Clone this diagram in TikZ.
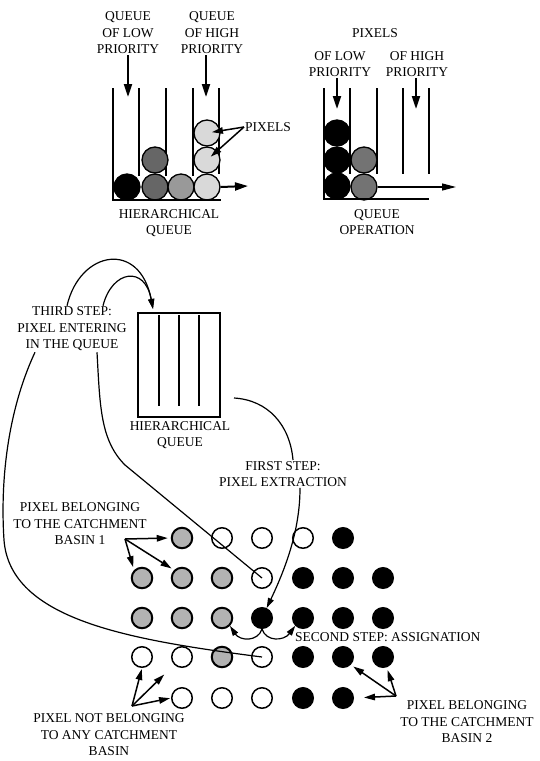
\documentclass[tikz,border=0pt]{standalone}
\usepackage{fontspec}
\setmainfont{Liberation Serif}
\usetikzlibrary{arrows.meta}

\begin{document}
\begin{tikzpicture}[x=1pt,y=-1pt]
  \tikzstyle{lbl} = [align=center, inner sep=1pt, font=\fontsize{13.5}{16.5}\selectfont]
  \tikzstyle{px} = [circle, draw, line width=1.5pt, minimum size=20.5pt, inner sep=0pt]
  \tikzstyle{pw} = [px, fill=white]
  \tikzstyle{pg} = [px, fill=black!30, line width=2pt]
  \tikzstyle{pb} = [px, fill=black]
  \tikzstyle{q} = [circle, draw, line width=1.3pt, minimum size=26pt, inner sep=0pt]
  \tikzstyle{tube} = [line width=2.4pt]
  \tikzstyle{e} = [line width=1.2pt]
  \tikzstyle{ea} = [e, -{Triangle[length=10pt,width=6pt]}]
  \tikzstyle{ptr} = [line width=1.5pt, shorten >=3pt, -{Triangle[length=11pt,width=6.5pt]}]
  \tikzstyle{dn} = [line width=2pt, -{Triangle[length=13pt,width=8pt]}]
  \useasboundingbox (0,0) rectangle (539,761);

  % hierarchical queue
  \node[lbl](lowq) at (128,33){QUEUE\\OF LOW\\PRIORITY};
  \node[lbl](highq) at (212,33){QUEUE\\OF HIGH\\PRIORITY};
  \coordinate (lowin) at (128,97);
  \coordinate (highin) at (206,97);
  \draw[dn](lowq)--(lowin);
  \draw[dn]([xshift=-6pt]highq.south)--(highin);

  \draw[tube](113,88)--(113,200);
  \draw[tube](139,88)--(139,176);
  \draw[tube](166,88)--(166,176);
  \draw[tube](193,88)--(193,176);
  \draw[tube](219,88)--(219,174);

  \node[q, fill=black](qa) at (127,187){};
  \node[q, fill=black!60](qb) at (155,187){};
  \node[q, fill=black!60](qc) at (155,160){};
  \node[q, fill=black!40](qd) at (181,187){};
  \node[q, fill=black!15](qe) at (207,187){};
  \node[q, fill=black!15](qf) at (207,160){};
  \node[q, fill=black!15](qg) at (207,133){};
  \draw[tube](112,200)--(221,200);

  \coordinate (hout) at (248,186);
  \draw[dn](qe.east)--(hout);
  \node[lbl, anchor=west](pixl) at (244,127){PIXELS};
  \draw[ptr, shorten >=5pt](pixl.west)--(qg.center);
  \draw[ptr, shorten >=5pt](pixl.west)--(qf.center);
  \node[lbl](hqtop) at (169,223){HIERARCHICAL\\QUEUE};

  % queue operation
  \node[lbl](pixr) at (375,33){PIXELS};
  \node[lbl](lowp) at (340,64){OF LOW\\PRIORITY};
  \node[lbl](highp) at (417,64){OF HIGH\\PRIORITY};
  \coordinate (lowr) at (337,109);
  \coordinate (highr) at (416,109);
  \draw[dn]([xshift=-3pt]lowp.south)--(lowr);
  \draw[dn]([xshift=-1pt]highp.south)--(highr);

  \draw[tube](324,88)--(324,199);
  \draw[tube](350,88)--(350,174);
  \draw[tube](377,88)--(377,174);
  \draw[tube](403,88)--(403,174);
  \draw[tube](429,88)--(429,174);

  \node[q, fill=black](ra) at (337,133){};
  \node[q, fill=black](rb) at (337,160){};
  \node[q, fill=black](rc) at (337,186){};
  \node[q, fill=black!55](rd) at (364,160){};
  \node[q, fill=black!55](re) at (364,187){};
  \draw[tube](323,199)--(429,199);

  \coordinate (rout) at (456,187);
  \draw[line width=1.3pt, -{Triangle[length=14pt,width=7pt]}](re.east)--(rout);
  \node[lbl](qop) at (377,222){QUEUE\\OPERATION};

  % watershed
  \node[lbl](third) at (72,329){THIRD STEP:\\PIXEL ENTERING\\IN THE QUEUE};
  \node[draw, line width=2.4pt, minimum width=82pt, minimum height=104pt](hq) at (179,365){};
  \draw[line width=1.6pt](159,315)--(159,406);
  \draw[line width=1.6pt](179,315)--(179,406);
  \draw[line width=1.6pt](199,315)--(199,406);
  \node[lbl](hqlbl) at (180,435){HIERARCHICAL\\QUEUE};
  \node[lbl](first) at (283,474){FIRST STEP:\\PIXEL EXTRACTION};
  \node[lbl, anchor=west](second) at (294,637){SECOND STEP: ASSIGNATION};
  \node[lbl](basa) at (80,524){PIXEL BELONGING\\TO THE CATCHMENT\\BASIN 1};
  \node[lbl](basb) at (467,722){PIXEL BELONGING\\TO THE CATCHMENT\\BASIN 2};
  \node[lbl](nobas) at (109,735){PIXEL NOT BELONGING\\TO ANY CATCHMENT\\BASIN};

  \node[pg](p11) at (182,538){};
  \node[pw](p12) at (222,538){};
  \node[pw](p13) at (262,538){};
  \node[pw](p14) at (303,538){};
  \node[pb](p15) at (343,538){};

  \node[pg](p20) at (142,578){};
  \node[pg](p21) at (182,578){};
  \node[pg](p22) at (222,578){};
  \node[pw](p23) at (262,578){};
  \node[pb](p24) at (303,578){};
  \node[pb](p25) at (343,578){};
  \node[pb](p26) at (383,578){};

  \node[pg](p30) at (142,618){};
  \node[pg](p31) at (182,618){};
  \node[pg](p32) at (222,618){};
  \node[pb](p33) at (262,618){};
  \node[pb](p34) at (303,618){};
  \node[pb](p35) at (343,618){};
  \node[pb](p36) at (383,618){};

  \node[pw](p40) at (142,657){};
  \node[pw](p41) at (182,657){};
  \node[pg](p42) at (222,657){};
  \node[pw](p43) at (262,657){};
  \node[pb](p44) at (303,657){};
  \node[pb](p45) at (343,657){};
  \node[pb](p46) at (383,657){};

  \node[pw](p51) at (182,698){};
  \node[pw](p52) at (222,698){};
  \node[pw](p53) at (262,698){};
  \node[pb](p54) at (303,698){};
  \node[pb](p55) at (343,698){};

  \coordinate (hqin) at (153,309);
  \coordinate (hqout) at (234,398);
  \draw[ea]([xshift=-5pt]third.north) .. controls (80,250) and (140,240) .. (hqin);
  \draw[ea]([xshift=31pt]third.north) .. controls (112,270) and (145,265) .. (hqin);
  \draw[e]([xshift=-37pt]third.south) .. controls (8,410) and (0,480) .. (4,540)
    .. controls (10,620) and (130,640) .. (p43.center);
  \draw[e]([xshift=25pt]third.south) .. controls (100,405) and (100,440) .. (125,465)
    -- (p23.center);
  \draw[e](hqout) .. controls (268,400) and (290,425) .. ([xshift=10pt]first.north);
  \draw[ea]([xshift=17pt]first.south) .. controls (300,520) and (292,555) .. (p33.65);
  \draw[ea](p33.south) .. controls (258,642) and (240,641) .. (p32.south east);
  \draw[ea](p33.south) .. controls (266,642) and (284,641) .. (p34.south west);

  \coordinate (ba) at (125,539);
  \coordinate (bb) at (396,696);
  \coordinate (nb) at (132,706);
  \draw[ptr](ba)--(p11.west);
  \draw[ptr](ba)--(p20.north west);
  \draw[ptr](ba)--(p21.north west);
  \draw[ptr](bb)--(p45.south east);
  \draw[ptr](bb)--(p46.-70);
  \draw[ptr, shorten >=10pt](bb)--(p55.east);
  \draw[ptr, shorten >=1pt](nb)--(p40.south);
  \draw[ptr, shorten >=14pt](nb)--(p41.south west);
  \draw[ptr, shorten >=1pt](nb)--(p51.west);
\end{tikzpicture}
\end{document}
